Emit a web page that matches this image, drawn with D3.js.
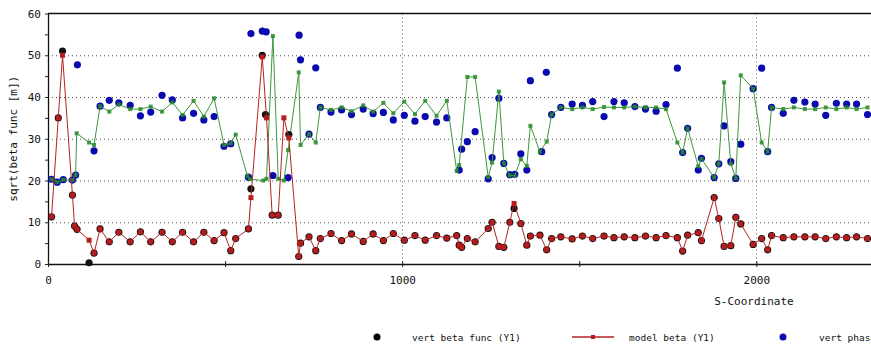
<!DOCTYPE html>
<html>
<head>
    <meta charset="utf-8" />
    <title>sqrt(beta func) vs S</title>
    <style>
        body {
            margin: 0;
            background-color: white;
        }

        text {
            font-family: "DejaVu Sans Mono", monospace;
            fill: #111;
        }

        .grid {
            stroke: #555;
            stroke-width: 1;
            stroke-dasharray: 1,3;
        }
    </style>
    <script src="https://cdnjs.cloudflare.com/ajax/libs/d3/7.8.5/d3.min.js"></script>
</head>
<body>
    <script>
        // model beta (Y1)
        var betaModelS = [
            10,29,41,69,75,82,116,130,147,173,
            200,232,261,290,322,351,380,411,440,469,
            497,516,530,566,573,605,617,633,650,666,
            680,708,713,737,756,769,799,829,857,890,
            918,947,975,1006,1036,1065,1097,1126,1154,1161,
            1168,1184,1206,1243,1254,1273,1287,1304,1316,1335,
            1352,1362,1389,1408,1422,1448,1480,1509,1538,1570,
            1598,1627,1657,1687,1717,1745,1777,1792,1806,1836,
            1845,1881,1894,1909,1928,1942,1956,1991,2015,2032,
            2043,2076,2106,2137,2166,2196,2226,2255,2283,2314];
        var betaModel = [
            11.3,35.0,50.0,16.5,9.1,8.3,5.7,2.6,8.4,5.3,
            7.6,5.3,7.7,5.3,7.6,5.3,7.6,5.3,7.6,5.6,
            7.5,3.2,6.1,8.4,15.9,49.6,35.0,11.7,11.7,35.0,
            30.2,1.8,5.0,6.5,3.2,6.1,7.3,5.6,7.2,5.4,
            7.2,5.6,7.3,5.7,6.8,5.7,6.8,6.2,6.8,4.5,
            4.0,6.1,5.3,8.5,10.0,4.2,4.0,10.0,14.5,9.7,
            4.5,6.7,6.9,3.4,6.1,6.5,6.0,6.7,6.1,6.7,
            6.3,6.5,6.3,6.7,6.3,6.8,6.3,3.1,6.9,7.5,
            5.6,15.9,10.9,4.2,4.4,11.2,9.6,4.7,6.1,3.4,
            6.8,6.3,6.5,6.5,6.5,6.1,6.5,6.3,6.5,6.1];

        // vert beta func (Y1), measured
        var betaMeasS = [
            10,29,41,69,75,82,116,130,147,173,
            200,232,261,290,322,351,380,411,440,469,
            497,516,530,566,573,605,614,633,650,680,
            708,713,737,756,769,799,829,857,890,918,
            947,975,1006,1036,1065,1097,1126,1154,1161,1168,
            1184,1206,1243,1254,1273,1287,1304,1316,1335,1352,
            1362,1389,1408,1422,1448,1480,1509,1538,1570,1598,
            1627,1657,1687,1717,1745,1777,1792,1806,1836,1845,
            1881,1894,1909,1928,1942,1956,1991,2015,2032,2043,
            2076,2106,2137,2166,2196,2226,2255,2283,2314];
        var betaMeas = [
            11.3,35.0,51.0,16.5,9.1,8.3,0.3,2.6,8.4,5.3,
            7.6,5.3,7.7,5.3,7.6,5.3,7.6,5.3,7.6,5.6,
            7.5,3.2,6.1,8.4,18.0,50.0,35.8,11.7,11.7,31.0,
            1.8,5.0,6.5,3.2,6.1,7.3,5.6,7.2,5.4,7.2,
            5.6,7.3,5.7,6.8,5.7,6.8,6.2,6.8,4.5,4.0,
            6.1,5.3,8.5,10.0,4.2,4.0,10.0,13.3,9.7,4.5,
            6.7,6.9,3.4,6.1,6.5,6.0,6.7,6.1,6.7,6.3,
            6.5,6.3,6.7,6.3,6.8,6.3,3.1,6.9,7.5,5.6,
            15.9,10.9,4.2,4.4,11.2,9.6,4.7,6.1,3.4,6.8,
            6.3,6.5,6.5,6.5,6.1,6.5,6.3,6.5,6.1];

        // model phase
        var phaseModelS = [
            10,26,43,69,78,81,116,130,147,173,
            200,232,261,290,322,351,380,411,440,469,
            497,516,530,563,570,608,617,635,650,666,
            678,708,713,737,756,769,799,829,857,890,
            918,947,975,1006,1036,1065,1097,1126,1154,1161,
            1184,1206,1243,1254,1273,1287,1304,1318,1335,1352,
            1362,1389,1408,1422,1448,1480,1509,1538,1570,1598,
            1627,1657,1687,1717,1745,1777,1792,1806,1836,1845,
            1881,1894,1909,1928,1942,1956,1991,2015,2032,2043,
            2076,2106,2137,2166,2196,2226,2255,2283,2314];
        var phaseModel = [
            20.3,19.6,20.2,20.1,21.3,31.3,29.1,28.5,37.8,36.5,
            38.2,37.1,37.1,37.7,36.5,38.7,35.7,39.1,35.3,39.7,
            28.5,28.9,31.0,21.1,20.3,20.0,20.4,54.6,20.4,20.0,
            27.3,45.9,28.5,31.1,29.1,37.5,36.9,37.5,36.6,38.0,
            36.5,38.6,36.1,38.9,35.9,39.1,35.5,39.1,22.3,23.7,
            44.8,44.8,20.8,24.3,41.3,24.1,21.2,21.2,25.1,23.5,
            33.1,26.9,29.3,35.8,37.5,37.1,37.5,37.1,37.6,37.5,
            37.5,37.7,37.5,37.5,37.1,29.1,26.7,32.5,23.4,25.2,
            20.7,24.0,43.5,24.0,20.5,45.2,42.0,29.1,26.9,37.5,
            37.1,37.5,37.1,37.1,37.5,37.1,37.5,37.1,37.5];

        // vert phase, measured
        var phaseMeasS = [
            10,26,43,69,78,83,130,147,173,200,
            232,261,290,322,351,380,411,440,469,497,
            516,566,573,605,616,635,678,709,713,737,756,
            769,799,829,857,890,918,947,975,1006,1036,
            1065,1097,1126,1161,1168,1184,1206,1243,1254,1273,
            1287,1304,1318,1335,1352,1362,1394,1407,1422,1448,
            1480,1509,1538,1570,1598,1627,1657,1687,1717,1745,
            1777,1792,1806,1836,1845,1881,1894,1909,1928,1942,
            1956,1991,2015,2032,2043,2076,2106,2137,2166,2196,
            2226,2255,2283,2314];
        var phaseMeas = [
            20.3,19.6,20.2,20.1,21.3,47.7,27.1,37.8,39.2,38.6,
            38.0,35.5,36.4,40.4,39.3,35.0,36.1,34.5,35.3,28.2,
            28.8,20.8,55.2,55.8,55.6,21.2,20.7,54.8,48.9,31.1,47.0,
            37.5,36.4,36.9,35.8,37.1,36.0,36.3,34.5,35.6,34.2,
            35.3,34.0,35.0,22.5,27.5,29.3,31.7,20.4,25.5,39.7,
            24.1,21.4,21.5,26.4,22.5,43.9,26.9,45.9,35.8,37.5,
            38.3,38.0,38.9,35.3,38.9,38.6,37.7,37.1,36.6,38.2,
            46.9,26.7,32.5,22.5,25.3,20.7,24.0,33.1,24.5,20.5,
            28.7,42.0,46.9,26.9,37.5,36.1,39.2,38.8,38.3,35.6,
            38.5,38.3,38.3,35.8];

        var yMajor = [0, 10, 20, 30, 40, 50, 60];
        var yMinor = [5, 15, 25, 35, 45, 55];
        var xMajor = [0, 1000, 2000];
        var xMinor = [500, 1500];

        var width = 871,
            height = 344;

        // the plot runs past the right edge of the window, like the original
        var x = d3.scaleLinear().domain([0, 2400]).range([48, 898]);
        var y = d3.scaleLinear().domain([0, 60]).range([264, 13.5]);

        var svg = d3.select("body").append("svg")
                    .attr("width", width)
                    .attr("height", height);

        // grid
        svg.selectAll("line.hgrid")
            .data([10, 20, 30, 40, 50])
            .enter().append("line")
            .attr("class", "grid")
            .attr("x1", x(0)).attr("x2", x(2400))
            .attr("y1", d => y(d) + 0.5).attr("y2", d => y(d) + 0.5);

        svg.selectAll("line.vgrid")
            .data([1000, 2000])
            .enter().append("line")
            .attr("class", "grid")
            .attr("x1", d => Math.round(x(d)) + 0.5).attr("x2", d => Math.round(x(d)) + 0.5)
            .attr("y1", y(60)).attr("y2", y(0));

        // axes
        svg.append("g")
            .attr("transform", "translate(" + x(0) + ",0)")
            .call(d3.axisLeft(y).tickValues(yMajor).tickSize(3).tickSizeOuter(0).tickPadding(4));
        svg.append("g")
            .attr("transform", "translate(" + x(0) + ",0)")
            .call(d3.axisLeft(y).tickValues(yMinor).tickSize(3).tickSizeOuter(0).tickFormat(""))
            .select(".domain").remove();

        svg.append("g")
            .attr("class", "xaxis")
            .attr("transform", "translate(0," + y(0) + ")")
            .call(d3.axisBottom(x).tickValues(xMajor).tickFormat(d3.format("d"))
                .tickSize(3).tickSizeOuter(0).tickPadding(9));
        svg.append("g")
            .attr("class", "xaxis")
            .attr("transform", "translate(0," + y(0) + ")")
            .call(d3.axisBottom(x).tickValues(xMinor).tickSize(3).tickSizeOuter(0).tickFormat(""))
            .select(".domain").remove();

        svg.selectAll(".tick line").attr("stroke", "#222");
        svg.selectAll(".xaxis .tick line").attr("y1", -3);
        svg.selectAll(".domain").attr("stroke", "#111").attr("stroke-width", 1.3);
        svg.selectAll(".tick text").style("font-size", "11px").style("font-family", "\"DejaVu Sans Mono\", monospace");

        // top border
        svg.append("line")
            .attr("x1", x(0)).attr("x2", x(2400))
            .attr("y1", y(60)).attr("y2", y(60))
            .attr("stroke", "#111").attr("stroke-width", 1.5);

        // axis titles
        svg.append("text")
            .attr("transform", "translate(17," + y(30) + ") rotate(-90)")
            .attr("text-anchor", "middle")
            .style("font-size", "11px")
            .text("sqrt(beta func [m])");

        svg.append("text")
            .attr("x", 754).attr("y", 305)
            .attr("text-anchor", "middle")
            .style("font-size", "11px")
            .text("S-Coordinate");

        var line = d3.line()
            .x(d => x(d[0]))
            .y(d => y(d[1]));

        var betaModelPts = betaModelS.map((s, i) => [s, betaModel[i]]);
        var betaMeasPts = betaMeasS.map((s, i) => [s, betaMeas[i]]);
        var phaseModelPts = phaseModelS.map((s, i) => [s, phaseModel[i]]);
        var phaseMeasPts = phaseMeasS.map((s, i) => [s, phaseMeas[i]]);

        // measured phase dots
        svg.append("g").selectAll("circle")
            .data(phaseMeasPts)
            .enter().append("circle")
            .attr("cx", d => x(d[0])).attr("cy", d => y(d[1]))
            .attr("r", 3.6)
            .attr("fill", "#0a0ab0");

        // model phase line
        svg.append("path")
            .datum(phaseModelPts)
            .attr("d", line)
            .attr("fill", "none")
            .attr("stroke", "#3d973d")
            .attr("stroke-width", 1);
        svg.append("g").selectAll("rect")
            .data(phaseModelPts)
            .enter().append("rect")
            .attr("x", d => x(d[0]) - 2).attr("y", d => y(d[1]) - 2)
            .attr("width", 4).attr("height", 4)
            .attr("fill", "#268a26")
            .attr("fill-opacity", 0.85);

        // measured beta dots
        svg.append("g").selectAll("circle")
            .data(betaMeasPts)
            .enter().append("circle")
            .attr("cx", d => x(d[0])).attr("cy", d => y(d[1]))
            .attr("r", 3.6)
            .attr("fill", "#111");

        // model beta line
        svg.append("path")
            .datum(betaModelPts)
            .attr("d", line)
            .attr("fill", "none")
            .attr("stroke", "#b32222")
            .attr("stroke-width", 1);
        svg.append("g").selectAll("rect")
            .data(betaModelPts)
            .enter().append("rect")
            .attr("x", d => x(d[0]) - 2.5).attr("y", d => y(d[1]) - 2.5)
            .attr("width", 5).attr("height", 5)
            .attr("fill", "#b81c1c");

        // legend (runs off the right edge, as in the original)
        var legend = svg.append("g").attr("transform", "translate(0,337)");
        legend.append("circle").attr("cx", 377).attr("cy", 0).attr("r", 3.5).attr("fill", "#000");
        legend.append("text").attr("x", 412).attr("y", 3.5).style("font-size", "9.5px").text("vert beta func (Y1)");
        legend.append("line").attr("x1", 572).attr("x2", 614).attr("y1", 0).attr("y2", 0)
            .attr("stroke", "#b32222").attr("stroke-width", 1.3);
        legend.append("rect").attr("x", 591).attr("y", -2).attr("width", 4).attr("height", 4).attr("fill", "#b81c1c");
        legend.append("text").attr("x", 629).attr("y", 3.5).style("font-size", "9.5px").text("model beta (Y1)");
        legend.append("circle").attr("cx", 783).attr("cy", 0).attr("r", 3.5).attr("fill", "#0a0ab0");
        legend.append("text").attr("x", 819).attr("y", 3.5).style("font-size", "9.5px").text("vert phase (Y2)");
    </script>
</body>
</html>
